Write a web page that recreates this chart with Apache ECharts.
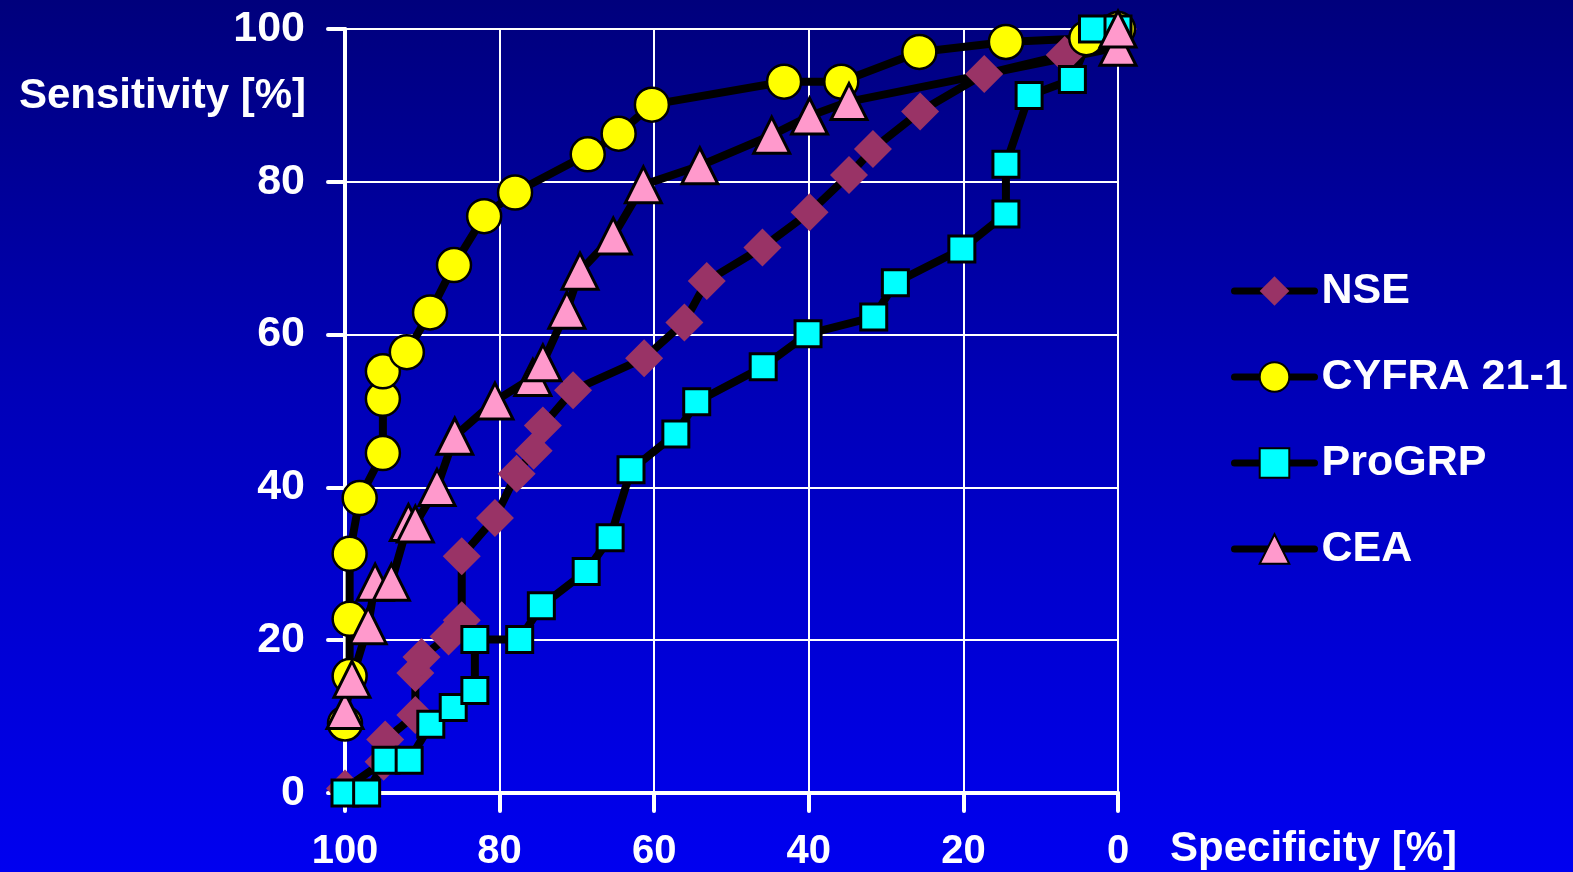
<!DOCTYPE html>
<html>
<head>
<meta charset="utf-8">
<script src="https://cdn.jsdelivr.net/npm/echarts@6/dist/echarts.min.js"></script>
<style>
html,body{margin:0;padding:0;width:1573px;height:872px;overflow:hidden;
background:linear-gradient(to bottom,#00007C 0%,#0000B8 45%,#0000F0 100%);}
#chart{width:1573px;height:872px;}
</style>
</head>
<body>
<div id="chart"></div>
<script>
// ---- data (specificity %, sensitivity %) ----
const seriesNames = ['NSE', 'CYFRA 21-1', 'ProGRP', 'CEA'];
const xTicks = [0, 20, 40, 60, 80, 100];
const yTicks = [0, 20, 40, 60, 80, 100];

const nseSpec = [100, 95.0, 94.8, 90.9, 90.9, 90.1, 86.6, 84.9, 84.9, 80.6, 77.8, 75.6, 74.4, 70.5, 61.3, 56.1, 53.2, 46.0, 39.9, 34.8, 31.7, 25.6, 17.3, 6.9, 0];
const nseSens = [0.6, 4.1, 7.0, 10.2, 15.7, 17.8, 20.5, 22.6, 31.0, 36.0, 41.8, 44.8, 48.1, 52.7, 56.9, 61.6, 67.0, 71.4, 76.0, 80.9, 84.3, 89.2, 94.1, 96.6, 100];

const cyfraSpec = [100, 99.4, 99.4, 99.4, 98.1, 95.1, 95.1, 95.1, 92.0, 89.0, 85.9, 82.0, 78.0, 68.6, 64.6, 60.3, 43.2, 35.8, 25.7, 14.5, 4.1, 0];
const cyfraSens = [9.1, 15.3, 22.8, 31.3, 38.6, 44.5, 51.6, 55.2, 57.7, 62.9, 69.1, 75.5, 78.6, 83.6, 86.3, 90.1, 93.1, 93.1, 97.0, 98.3, 98.8, 100];

const progrpSpec = [100, 97.2, 94.7, 91.7, 88.9, 86.0, 83.2, 83.2, 77.4, 74.6, 68.8, 65.7, 63.0, 57.2, 54.5, 45.9, 40.1, 31.6, 28.8, 20.2, 14.5, 14.5, 11.5, 5.9, 3.3, 0];
const progrpSens = [0, 0, 4.3, 4.3, 9.0, 11.2, 13.4, 20.1, 20.1, 24.5, 29.0, 33.4, 42.3, 47.0, 51.2, 55.8, 60.1, 62.3, 66.8, 71.2, 75.8, 82.3, 91.3, 93.4, 100, 100];

const ceaSpec = [100, 99.1, 97.0, 96.1, 94.0, 91.8, 90.9, 88.1, 85.8, 80.6, 75.7, 74.4, 71.3, 69.6, 65.3, 61.4, 54.1, 44.8, 39.9, 34.8, 0, 0];
const ceaSens = [10.8, 14.9, 21.9, 27.6, 27.6, 35.4, 35.2, 40.0, 46.7, 51.3, 54.4, 56.3, 63.2, 68.3, 72.9, 79.6, 82.1, 86.1, 88.6, 90.5, 97.6, 100];

function zip(a, b) { return a.map((v, i) => [v, b[i]]); }

const FONT = '"Liberation Sans", Arial, Helvetica, sans-serif';
const chart = echarts.init(document.getElementById('chart'), null, {renderer: 'canvas'});

function mkSeries(name, spec, sens, symbol, size, color, border) {
  return {
    name: name, type: 'line', data: zip(spec, sens),
    symbol: symbol, symbolSize: size, showSymbol: true, showAllSymbol: true,
    clip: false,
    lineStyle: {color: '#000', width: 8, join: 'round', cap: 'round'},
    itemStyle: {color: color, borderColor: '#000', borderWidth: border, opacity: 1},
    emphasis: {disabled: true}
  };
}

const option = {
  backgroundColor: 'transparent',
  animation: false,
  grid: {left: 345, right: 455, top: 29, bottom: 77, containLabel: false},
  xAxis: {
    type: 'value', inverse: true, min: 0, max: 100, interval: 20,
    axisLine: {show: true, onZero: false, lineStyle: {color: '#fff', width: 4, cap: 'round'}},
    axisTick: {show: true, length: 18, lineStyle: {color: '#fff', width: 4, cap: 'round'}},
    splitLine: {show: true, lineStyle: {color: '#fff', width: 2}},
    axisLabel: {color: '#fff', fontSize: 40, fontWeight: 'bold', fontFamily: FONT, margin: 39}
  },
  yAxis: {
    type: 'value', min: 0, max: 100, interval: 20, position: 'left',
    axisLine: {show: true, onZero: false, lineStyle: {color: '#fff', width: 4, cap: 'round'}},
    axisTick: {show: true, length: 17, lineStyle: {color: '#fff', width: 4, cap: 'round'}},
    splitLine: {show: true, lineStyle: {color: '#fff', width: 2}},
    axisLabel: {color: '#fff', fontSize: 43, fontWeight: 'bold', fontFamily: FONT, margin: 40}
  },
  legend: {
    data: seriesNames, orient: 'vertical', left: 1226, top: 263,
    itemWidth: 80, itemHeight: 37, itemGap: 40,
    lineStyle: {width: 7, cap: 'round'},
    textStyle: {color: '#fff', fontSize: 43, fontWeight: 'bold', fontFamily: FONT, lineHeight: 46, padding: [0, 0, 0, 2]},
    selectedMode: false
  },
  graphic: [
    {type: 'text', right: 1573 - 306, top: 75,
     style: {text: 'Sensitivity [%]', fill: '#fff', font: 'bold 42px ' + FONT}},
    {type: 'text', left: 1170, top: 828,
     style: {text: 'Specificity [%]', fill: '#fff', font: 'bold 42px ' + FONT}}
  ],
  series: [
    mkSeries(seriesNames[0], nseSpec, nseSens, 'diamond', 38, '#993366', 0),
    mkSeries(seriesNames[1], cyfraSpec, cyfraSens, 'circle', 34, '#FFFF00', 2.5),
    mkSeries(seriesNames[2], progrpSpec, progrpSens, 'rect', 26, '#00FFFF', 3),
    mkSeries(seriesNames[3], ceaSpec, ceaSens, 'triangle', 36, '#FF99CC', 3)
  ]
};
chart.setOption(option);
</script>
</body>
</html>
